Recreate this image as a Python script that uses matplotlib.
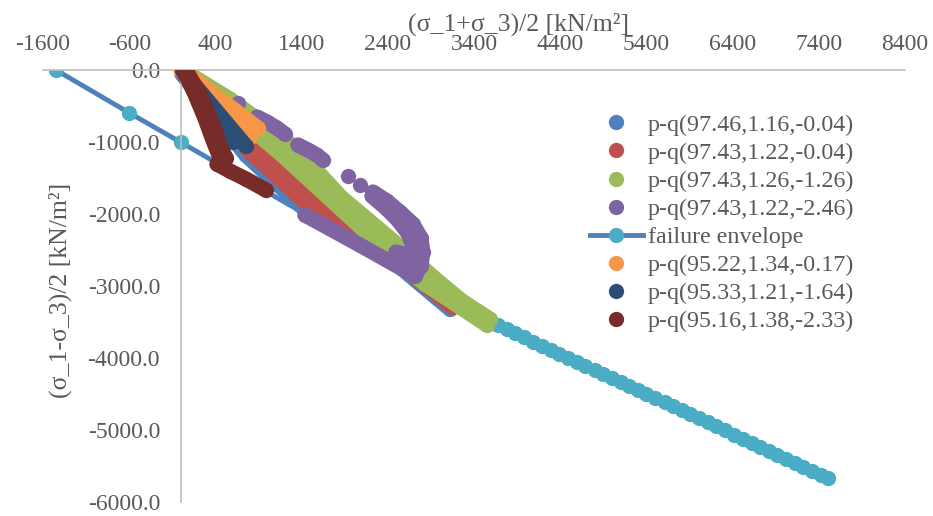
import numpy as np
import matplotlib
matplotlib.use("Agg")
import matplotlib.pyplot as plt
from matplotlib.lines import Line2D

plt.rcParams["font.family"] = ["Liberation Serif", "DejaVu Serif"]
plt.rcParams["axes.unicode_minus"] = False

nan = np.nan

# ---- data: p = (s1+s3)/2, q = (s1-s3)/2  [kN/m2]; nan separates runs ----
env_p = [-1450, -600, 0,
         3680, 3780, 3880, 3980, 4090, 4190, 4290, 4390, 4490, 4590,
         4690, 4800, 4900, 5000, 5100, 5200, 5300, 5400, 5500, 5610,
         5710, 5810, 5910, 6010, 6110, 6210, 6310, 6420, 6520, 6620,
         6720, 6820, 6920, 7020, 7120, 7220, 7320, 7420, 7510]
env_q = [0, -595, -1005,
         -3544, -3600, -3655, -3711, -3772, -3827, -3883, -3938, -3994, -4049,
         -4105, -4166, -4221, -4277, -4332, -4388, -4443, -4499, -4554, -4615,
         -4671, -4726, -4782, -4837, -4893, -4948, -5004, -5065, -5120, -5176,
         -5231, -5287, -5342, -5398, -5453, -5509, -5565, -5620, -5670]

blue_p = [12, 754, 1554, 2401, 3120]
blue_q = [-56, -1181, -2070, -2597, -3320]

red_p = [23, 800, 1589, 2390, 2772, 3144, nan, 35, 951, 2343]
red_q = [-28, -1139, -2000, -2542, -2931, -3292, nan, -28, -1139, -2542]

green_p = [58, 568, 916, 1357, 1856, 2587, 2912, 3260, 3584,
           nan, 46, 1160, 2448, 2830, 3236, 3550]
green_q = [-28, -403, -708, -1111, -1764, -2500, -2861, -3208, -3459,
           nan, -42, -1167, -2584, -2973, -3292, -3542]

purple_p = [1438, 2076, 2714, 2784, 2807, 2784, 2691, 2540, 2390, 2227,
            nan, 2216, 2378, 2517, 2633, 2691,
            nan, 2494, 2680, 2772,
            nan, 661,
            nan, 882, 998, 1114, 1206,
            nan, 1357, 1473, 1578, 1647,
            nan, 1937,
            nan, 2076]
purple_q = [-2014, -2431, -2861, -2722, -2528, -2333, -2139, -1972, -1820, -1695,
            nan, -1750, -1917, -2083, -2264, -2445,
            nan, -2528, -2583, -2695,
            nan, -458,
            nan, -653, -722, -806, -889,
            nan, -1042, -1111, -1181, -1250,
            nan, -1472,
            nan, -1597]

orange_p = [0, 893, nan, 0, 800]
orange_q = [14, -806, nan, 0, -931]

dblue_p = [23, 754, nan, 23, 603]
dblue_q = [-14, -1056, nan, -14, -1000]

brown_p = [23, 162, 278, 371, 464, nan, 58, 232, 360, 452, 522,
           nan, 418, 568, 754, 986]
brown_q = [14, -333, -667, -972, -1250, nan, 0, -361, -722, -1042, -1222,
           nan, -1306, -1403, -1514, -1667]

labels = ["p-q(97.46,1.16,-0.04)", "p-q(97.43,1.22,-0.04)",
          "p-q(97.43,1.26,-1.26)", "p-q(97.43,1.22,-2.46)",
          "failure envelope", "p-q(95.22,1.34,-0.17)",
          "p-q(95.33,1.21,-1.64)", "p-q(95.16,1.38,-2.33)"]
colors = ["#4F81BD", "#C0504D", "#9BBB59", "#8064A2", "#4BACC6",
          "#F79646", "#2C4D75", "#772C2A"]
env_line_color = "#4F81BD"

x_ticks = list(range(-1600, 8401, 1000))
y_ticks = list(range(-6000, 1, 1000))

TEXT = "#595959"
AXIS = "#BFBFBF"
MS = 11.0   # marker diameter (pt)

fig = plt.figure(figsize=(9.33, 5.16), dpi=100)
ax = fig.add_axes([43 / 933, 14 / 516, 862 / 933, 432 / 516])

# failure envelope sits underneath the stress paths
ax.plot(env_p, env_q, color=env_line_color, lw=3.5, marker="o", ms=MS,
        mfc=colors[4], mec=colors[4], mew=0, zorder=1)

series = [(blue_p, blue_q, colors[0]), (red_p, red_q, colors[1]),
          (green_p, green_q, colors[2]), (purple_p, purple_q, colors[3]),
          (orange_p, orange_q, colors[5]), (dblue_p, dblue_q, colors[6]),
          (brown_p, brown_q, colors[7])]
for z, (p, q, c) in enumerate(series):
    ax.plot(p, q, color=c, lw=MS, marker="o", ms=MS, mew=0,
            solid_capstyle="round", solid_joinstyle="round", zorder=2 + z)

ax.set_xlim(-1600, 8400)
ax.set_ylim(-6000, 0)
ax.set_xticks(x_ticks)
ax.set_yticks(y_ticks)
ax.set_xticklabels([str(v) for v in x_ticks])
ax.set_yticklabels([f"{v:.1f}" for v in y_ticks])

for s in ("right", "bottom"):
    ax.spines[s].set_visible(False)
ax.spines["left"].set_position(("data", 0))
for s in ("left", "top"):
    ax.spines[s].set_color(AXIS)
    ax.spines[s].set_linewidth(1.2)
ax.xaxis.tick_top()
ax.tick_params(axis="x", length=0, pad=11, labelsize=17, labelcolor=TEXT)
ax.tick_params(axis="y", length=0, pad=15, labelsize=17, labelcolor=TEXT)
ax.set_facecolor("none")

fig.text(519 / 933, 1 - 24 / 516, "(σ_1+σ_3)/2 [kN/m²]", ha="center",
         va="center", fontsize=18.5, color=TEXT)
fig.text(60 / 933, 1 - 290 / 516, "(σ_1-σ_3)/2 [kN/m²]", ha="center",
         va="center", rotation=90, fontsize=18.5, color=TEXT)

handles = []
for i, c in enumerate(colors):
    if i == 4:
        handles.append(Line2D([], [], color=env_line_color, lw=3.5, marker="o",
                              ms=MS, mfc=c, mec=c, mew=0))
    else:
        handles.append(Line2D([], [], ls="none", marker="o", ms=MS, mfc=c,
                              mec=c, mew=0))
leg = fig.legend(handles, labels, loc="upper left",
                 bbox_to_anchor=(590 / 933, 1 - 114 / 516), frameon=False,
                 fontsize=17.3, labelcolor=TEXT, handlelength=2.2,
                 handletextpad=0.2, labelspacing=0.26, borderpad=0,
                 borderaxespad=0, numpoints=1)

fig.savefig("out.png", dpi=100)
